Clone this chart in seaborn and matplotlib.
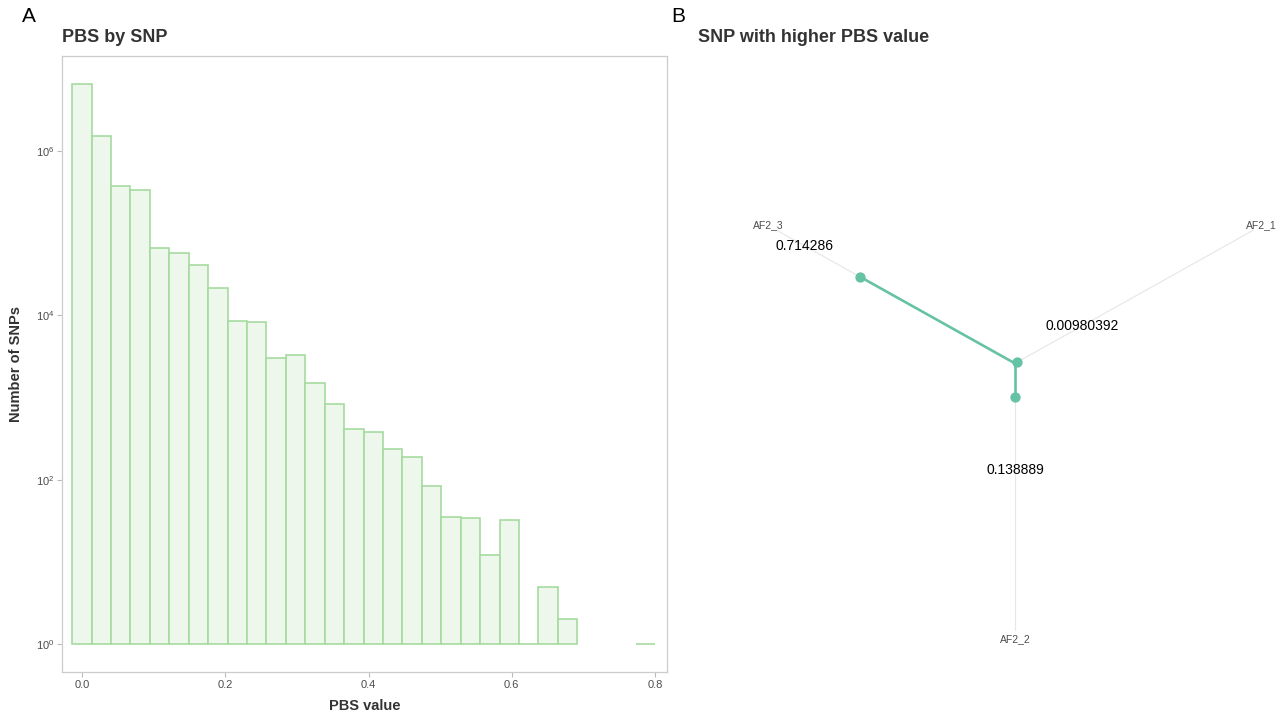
import numpy as np
import pandas as pd
import matplotlib
matplotlib.use("Agg")
import matplotlib.pyplot as plt
import seaborn as sns

# PBS histogram: 30 equal bins, counts
bin_start = -0.0139
bin_width = 0.02713
snp_counts = [6520000, 1500000, 376000, 333000, 65500, 57800, 41000, 21700,
              8530, 8360, 3050, 3280, 1500, 824, 416, 382, 237, 188, 83, 35,
              34, 12, 32, 1, 5, 2, 0, 0, 0, 1]
y_tick_powers = [0, 2, 4, 6]
x_ticks = [0.0, 0.2, 0.4, 0.6, 0.8]

# tree of the SNP with the highest PBS value
pops = ["AF2_1", "AF2_2", "AF2_3"]
pbs_values = [0.00980392, 0.138889, 0.714286]
pbs_labels = ["0.00980392", "0.138889", "0.714286"]

# layout of the unrooted tree (degrees) and where the text goes
branch_angles = [30, 270, 150]
value_label_dist = [0.31, 0.44, 0.97]
axis_len = 1.1
tip_label_dist = 1.14

GREEN = "#66C2A5"
TXT = "#333333"

sns.set_theme(style="white")
plt.rcParams["font.family"] = ["Liberation Sans", "DejaVu Sans"]
plt.rcParams["mathtext.default"] = "regular"

W, H = 1284, 717
fig = plt.figure(figsize=(W / 100, H / 100), dpi=100)
ax1 = fig.add_axes([62 / W, 1 - 672 / H, (667 - 62) / W, (672 - 56) / H])
ax2 = fig.add_axes([700 / W, 1 - 672 / H, 580 / W, (672 - 56) / H])

# ---- panel A ----
edges = [bin_start + bin_width * k for k in range(len(snp_counts) + 1)]
centers = [(a + b) / 2 for a, b in zip(edges[:-1], edges[1:])]
hist_df = pd.DataFrame({"pbs": centers, "count": snp_counts})
# same as scale_y_log10: bars start at 10^0
hist_df["log_count"] = np.log10(hist_df["count"].where(hist_df["count"] > 0)).fillna(0)

sns.histplot(data=hist_df, x="pbs", weights="log_count", bins=edges, ax=ax1,
             color="#EDF7EB", edgecolor="#A6DB9F", linewidth=1.2, alpha=1)
for patch, c in zip(ax1.patches, snp_counts):
    if c == 0:
        patch.set_visible(False)

ax1.set_xlim(-0.028, 0.8168)
ax1.set_ylim(-0.34, 7.155)
ax1.set_xticks(x_ticks)
ax1.set_xticklabels([f"{t:.1f}" for t in x_ticks])
ax1.set_yticks(y_tick_powers)
ax1.set_yticklabels([f"$10^{{{p}}}$" for p in y_tick_powers])
ax1.tick_params(axis="both", length=3.5, width=0.8, color="#BBBBBB",
                labelsize=8, labelcolor="#4D4D4D", pad=2,
                left=True, bottom=True)
for sp in ax1.spines.values():
    sp.set_color("#CCCCCC")
    sp.set_linewidth(0.9)
ax1.set_xlabel("PBS value", fontsize=10.5, fontweight="bold", color=TXT, labelpad=7)
ax1.set_ylabel("Number of SNPs", fontsize=10.5, fontweight="bold", color=TXT, labelpad=9)

fig.text(62 / W, 1 - 38 / H, "PBS by SNP", ha="left", va="center",
         fontsize=13, fontweight="bold", color=TXT)
fig.text(29 / W, 1 - 16 / H, "A", ha="center", va="center", fontsize=15, color="black")

# ---- panel B ----
rad = np.deg2rad(branch_angles)
ux, uy = np.cos(rad), np.sin(rad)

for i in range(len(pops)):
    ax2.plot([0, axis_len * ux[i]], [0, axis_len * uy[i]], color="#E6E6E6", lw=0.8, zorder=1)
    ax2.plot([0, pbs_values[i] * ux[i]], [0, pbs_values[i] * uy[i]], color=GREEN,
             lw=1.9, solid_capstyle="round", zorder=2)

tips = pd.DataFrame({"x": np.array(pbs_values) * ux, "y": np.array(pbs_values) * uy, "pop": pops})
sns.scatterplot(data=tips, x="x", y="y", color=GREEN, s=55, linewidth=0, ax=ax2, zorder=3)

for i in range(len(pops)):
    ax2.text(tip_label_dist * ux[i], tip_label_dist * uy[i], pops[i], ha="center", va="center",
             fontsize=7.5, color="#4D4D4D")
    ax2.text(value_label_dist[i] * ux[i], value_label_dist[i] * uy[i], pbs_labels[i],
             ha="center", va="center", fontsize=10, color="black")

ax2.set_xlim((700 - 1015) / 250, (1280 - 1015) / 250)
ax2.set_ylim((363.4 - 672) / 242, (363.4 - 56) / 242)
ax2.axis("off")

fig.text(698 / W, 1 - 38 / H, "SNP with higher PBS value", ha="left", va="center",
         fontsize=13, fontweight="bold", color=TXT)
fig.text(678 / W, 1 - 16 / H, "B", ha="center", va="center", fontsize=15, color="black")

fig.savefig("out.png", dpi=100)
